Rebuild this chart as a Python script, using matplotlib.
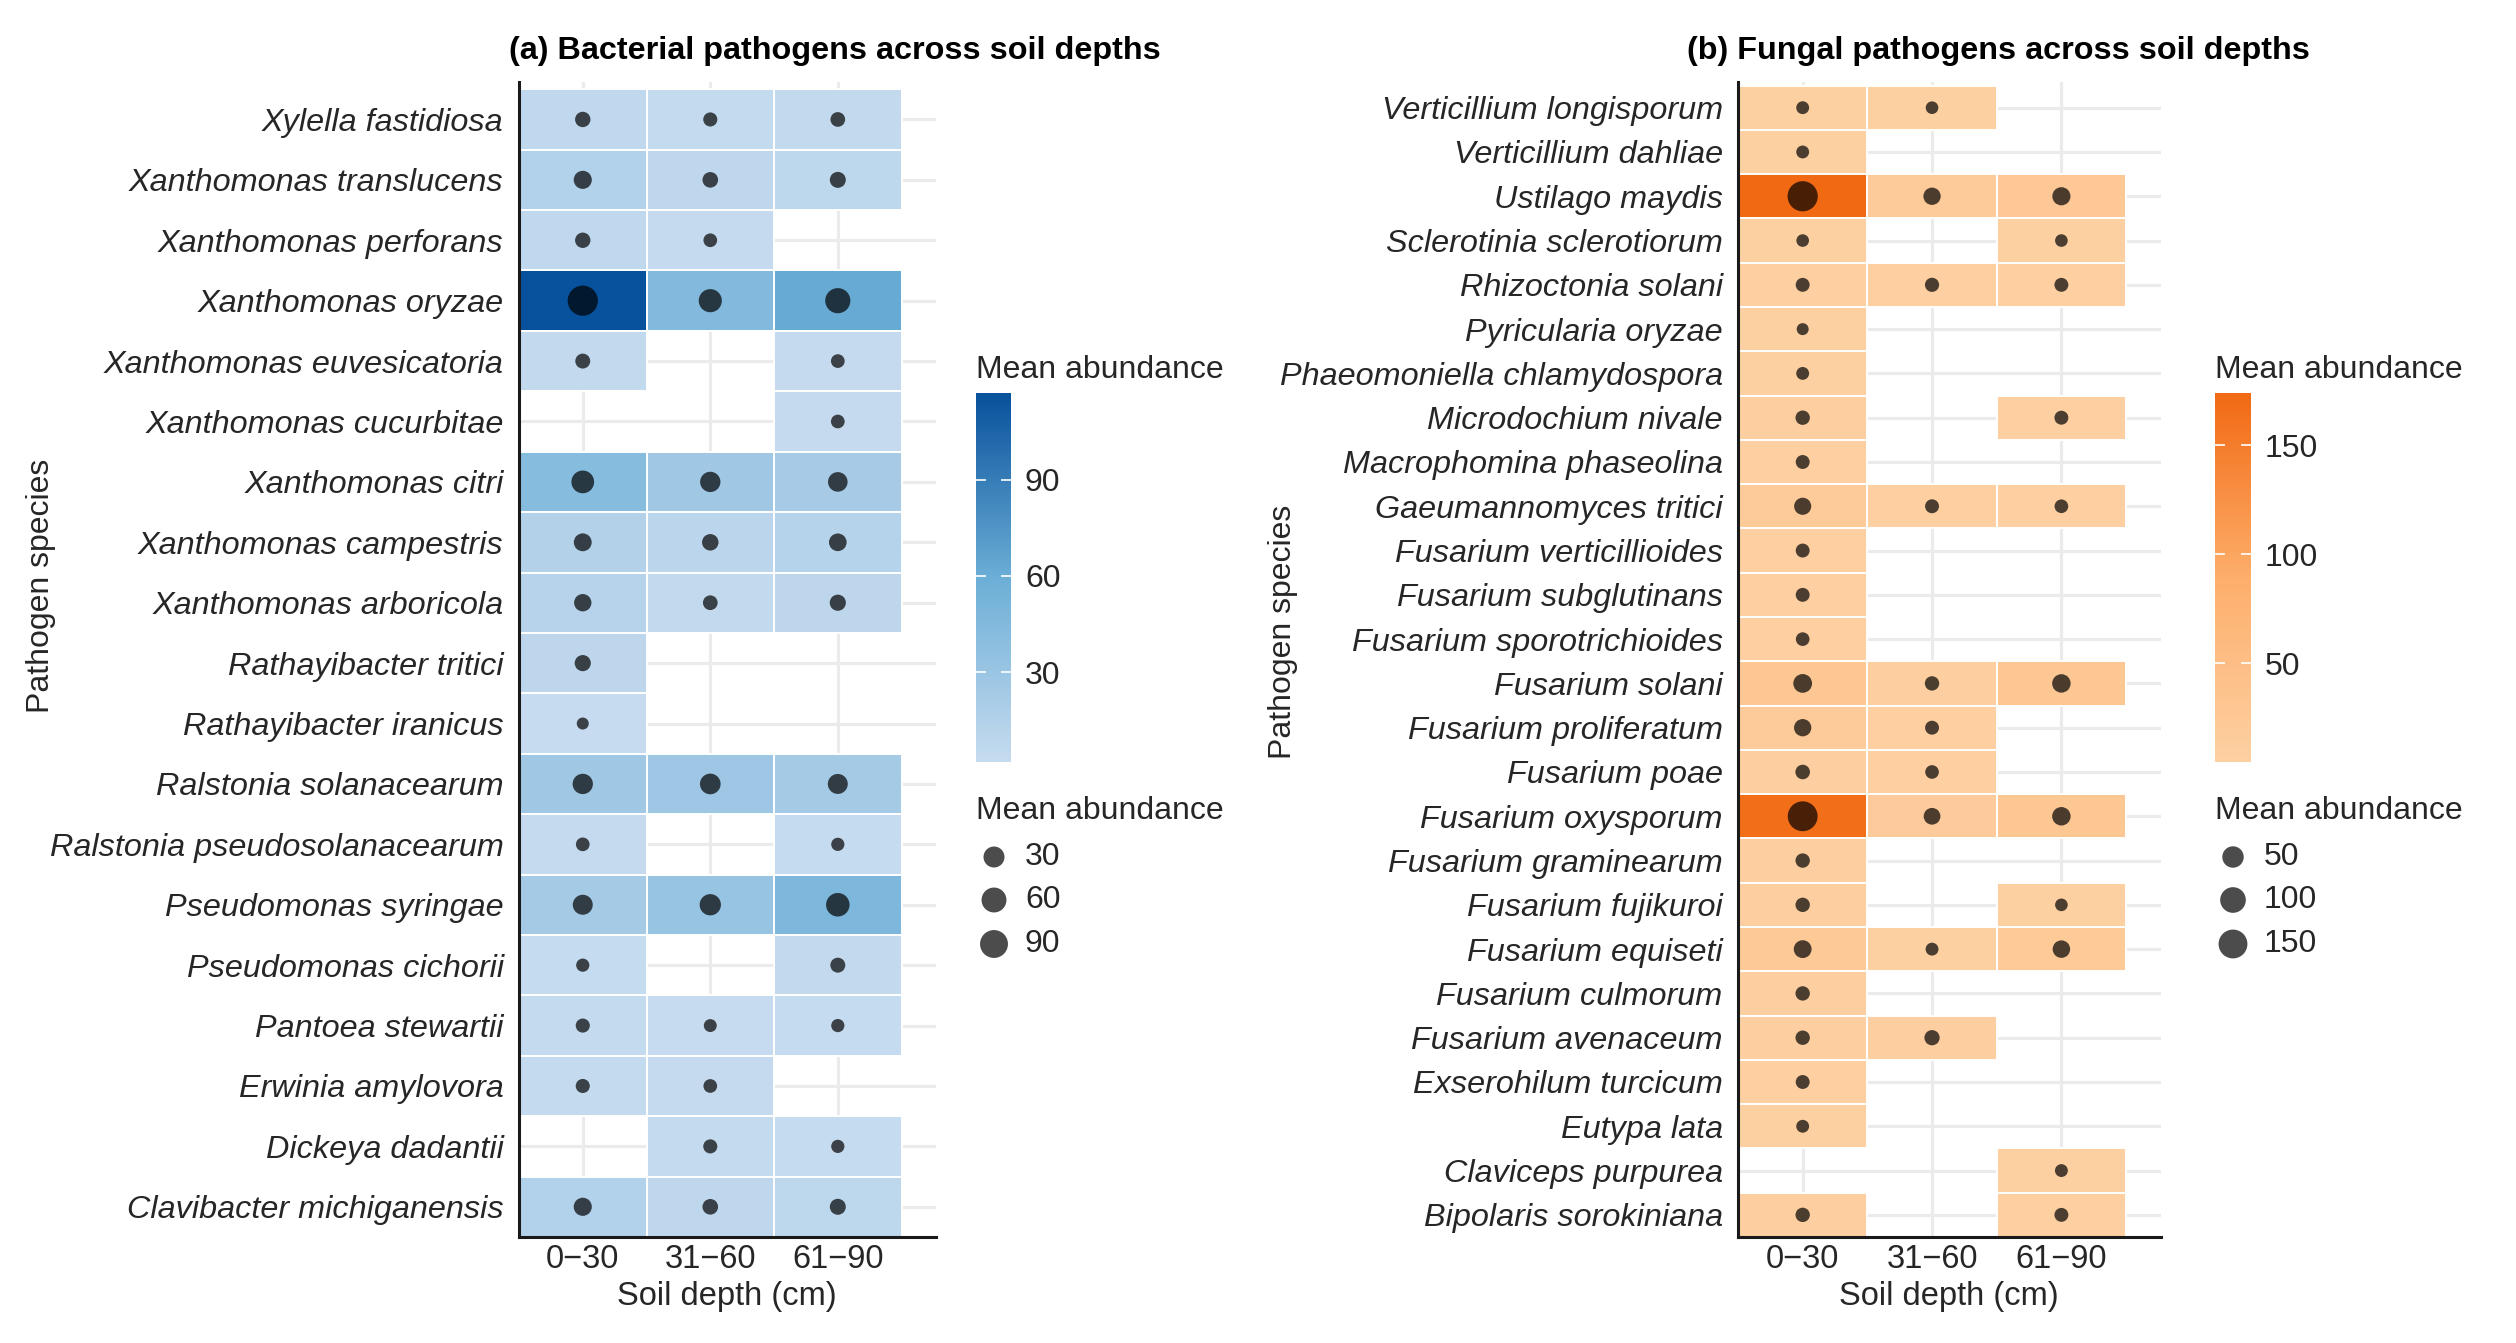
import numpy as np
import matplotlib
matplotlib.use('Agg')
import matplotlib.pyplot as plt
from matplotlib.colors import LinearSegmentedColormap, Normalize
from matplotlib.patches import Rectangle
from matplotlib.cm import ScalarMappable

plt.rcParams['font.family'] = ['Liberation Sans', 'DejaVu Sans']

nan = np.nan

# ---- data (rows listed top to bottom) ----
depths = ['0\u221230', '31\u221260', '61\u221290']

bact_species = ['Xylella fastidiosa', 'Xanthomonas translucens', 'Xanthomonas perforans',
                'Xanthomonas oryzae', 'Xanthomonas euvesicatoria', 'Xanthomonas cucurbitae',
                'Xanthomonas citri', 'Xanthomonas campestris', 'Xanthomonas arboricola',
                'Rathayibacter tritici', 'Rathayibacter iranicus', 'Ralstonia solanacearum',
                'Ralstonia pseudosolanacearum', 'Pseudomonas syringae', 'Pseudomonas cichorii',
                'Pantoea stewartii', 'Erwinia amylovora', 'Dickeya dadantii',
                'Clavibacter michiganensis']
bact_0_30 = [6, 15, 6, 117, 5, nan, 42, 14, 12, 8, 2, 26, 3, 24, 2.5, 3.5, 3.5, nan, 15]
bact_31_60 = [3.5, 6.5, 3, 45, nan, nan, 26, 9, 4.5, nan, nan, 28, nan, 32, nan, 2.3, 3, 3.5, 6.5]
bact_61_90 = [4.5, 7.5, nan, 62, 3, 3, 22, 13, 8, nan, nan, 24, 2.5, 48, 5, 2.5, nan, 2.5, 7.5]

fung_species = ['Verticillium longisporum', 'Verticillium dahliae', 'Ustilago maydis',
                'Sclerotinia sclerotiorum', 'Rhizoctonia solani', 'Pyricularia oryzae',
                'Phaeomoniella chlamydospora', 'Microdochium nivale', 'Macrophomina phaseolina',
                'Gaeumannomyces tritici', 'Fusarium verticillioides', 'Fusarium subglutinans',
                'Fusarium sporotrichioides', 'Fusarium solani', 'Fusarium proliferatum',
                'Fusarium poae', 'Fusarium oxysporum', 'Fusarium graminearum',
                'Fusarium fujikuroi', 'Fusarium equiseti', 'Fusarium culmorum',
                'Fusarium avenaceum', 'Exserohilum turcicum', 'Eutypa lata',
                'Claviceps purpurea', 'Bipolaris sorokiniana']
fung_0_30 = [5, 5, 174, 4.8, 6.5, 4.6, 5, 7.5, 6.5, 18, 6.5, 6.5, 6, 28, 19, 8, 168, 7.5, 7.5, 22,
             7.5, 7.5, 6.5, 5, nan, 7.5]
fung_31_60 = [4.8, nan, 19, nan, 7, nan, nan, nan, nan, 6.5, nan, nan, nan, 7.5, 6.5, 6, 16, nan,
              nan, 5, nan, 10, nan, nan, nan, nan]
fung_61_90 = [nan, nan, 24, 4.8, 6.5, nan, nan, 6.5, nan, 6, nan, nan, nan, 26, nan, nan, 26, nan,
              4.8, 20, nan, nan, nan, nan, 5, 6.5]

bact_breaks = [30, 60, 90]
fung_breaks = [50, 100, 150]

W, H = 2516, 1343
TXT = '#262626'

blues = LinearSegmentedColormap.from_list('blues', ['#c6dbef', '#6baed6', '#08519c'])
oranges = LinearSegmentedColormap.from_list('oranges', ['#fdd0a2', '#fdae6b', '#f16913'])


def dot_size(v, vmin, vmax):
    # area-style size scale, diameter in pixels -> points^2
    d = 12.0 + 18.2 * np.sqrt((np.asarray(v, dtype=float) - vmin) / (vmax - vmin))
    return (d * 0.72) ** 2


def draw_panel(ax, species, cols, cmap, norm, top_pad):
    n = len(species)
    ax.set_xlim(0.5, 3.77)
    ax.set_ylim(0.5, n + 0.5 + top_pad)
    ax.set_xticks([1, 2, 3])
    ax.set_xticklabels(depths)
    ax.set_yticks(np.arange(1, n + 1))
    ax.set_yticklabels(species[::-1], fontstyle='italic')
    ax.grid(True, color='#ebebeb', lw=2.3)
    ax.set_axisbelow(True)
    xs, ys, vs = [], [], []
    for j, col in enumerate(cols):
        for i, v in enumerate(col):
            if np.isnan(v):
                continue
            y = n - i
            ax.add_patch(Rectangle((j + 0.5, y - 0.5), 1, 1, facecolor=cmap(norm(v)),
                                   edgecolor='white', lw=1.4, zorder=2))
            xs.append(j + 1)
            ys.append(y)
            vs.append(v)
    ax.scatter(xs, ys, s=dot_size(vs, norm.vmin, norm.vmax), color='black', alpha=0.7,
               linewidths=0, zorder=3)
    for s in ['top', 'right']:
        ax.spines[s].set_visible(False)
    for s in ['left', 'bottom']:
        ax.spines[s].set_linewidth(2.2)
        ax.spines[s].set_color('#1a1a1a')
        ax.spines[s].set_zorder(4)
    ax.tick_params(axis='both', length=0, labelsize=23.3, labelcolor=TXT)
    ax.tick_params(axis='y', pad=11)
    ax.tick_params(axis='x', pad=5, labelsize=23.5)


def legends(fig, lax, cmap, norm, breaks, x0, bar_w):
    cax = fig.add_axes([x0 / W, 1 - 762 / H, bar_w / W, 369 / H])
    cb = fig.colorbar(ScalarMappable(norm=norm, cmap=cmap), cax=cax)
    cb.set_ticks(breaks)
    cb.outline.set_visible(False)
    cax.minorticks_off()
    cax.tick_params(direction='in', color='white', length=7, width=1.2, left=True, right=True,
                    labelsize=23, labelcolor=TXT, pad=10)
    lax.text(x0, 370, 'Mean abundance', fontsize=23, color=TXT, ha='left', va='center')
    lax.text(x0, 811, 'Mean abundance', fontsize=23, color=TXT, ha='left', va='center')
    ly = [857, 900, 944]
    lax.scatter([x0 + 18] * 3, ly, s=dot_size(breaks, norm.vmin, norm.vmax), color='black',
                alpha=0.7, linewidths=0)
    for b, yy in zip(breaks, ly):
        lax.text(x0 + 49, yy, str(b), fontsize=23, color=TXT, ha='left', va='center')


fig = plt.figure(figsize=(W / 100, H / 100), dpi=100)

bact_vals = np.array([bact_0_30, bact_31_60, bact_61_90], dtype=float)
fung_vals = np.array([fung_0_30, fung_31_60, fung_61_90], dtype=float)
bnorm = Normalize(np.nanmin(bact_vals), np.nanmax(bact_vals))
fnorm = Normalize(np.nanmin(fung_vals), np.nanmax(fung_vals))

ax1 = fig.add_axes([519 / W, 1 - 1237 / H, (936 - 519) / W, (1237 - 82) / H])
draw_panel(ax1, bact_species, bact_vals, blues, bnorm, 0.12)

ax2 = fig.add_axes([1738 / W, 1 - 1237 / H, (2161 - 1738) / W, (1237 - 82) / H])
draw_panel(ax2, fung_species, fung_vals, oranges, fnorm, 0.08)

# overlay in pixel coordinates for legends and titles
lax = fig.add_axes([0, 0, 1, 1])
lax.set_xlim(0, W)
lax.set_ylim(H, 0)
lax.axis('off')

legends(fig, lax, blues, bnorm, bact_breaks, 976, 35)
legends(fig, lax, oranges, fnorm, fung_breaks, 2215, 36)

lax.text(835, 51, '(a) Bacterial pathogens across soil depths', fontsize=23.3, fontweight='bold',
         ha='center', va='center', color='black')
lax.text(1998, 51, '(b) Fungal pathogens across soil depths', fontsize=23.3, fontweight='bold',
         ha='center', va='center', color='black')
lax.text(41, 586, 'Pathogen species', rotation=90, fontsize=23, ha='center', va='center', color=TXT)
lax.text(1283, 632, 'Pathogen species', rotation=90, fontsize=23, ha='center', va='center', color=TXT)
lax.text(727, 1296, 'Soil depth (cm)', fontsize=23.5, ha='center', va='center', color=TXT)
lax.text(1949, 1296, 'Soil depth (cm)', fontsize=23.5, ha='center', va='center', color=TXT)

fig.savefig('out.png', dpi=100)
